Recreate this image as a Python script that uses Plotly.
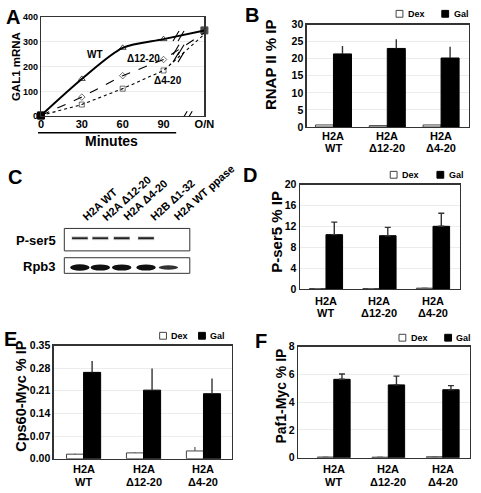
import plotly.graph_objects as go
import numpy as np

W, H = 481, 493
FONT = "Liberation Sans, Arial, Helvetica, sans-serif"

# ---------------- Data ----------------
# Panel A: GAL1 mRNA time course
minutes = [0, 30, 60, 90, 120]
minute_labels = ["0", "30", "60", "90", "O/N"]
gal1_wt = [3, 150, 275, 310, 345]
gal1_d12 = [3, 77, 163, 228, 335]
gal1_d4 = [3, 47, 111, 184, 330]

# Bar panels
strain_line1 = ["H2A", "H2A", "H2A"]
strain_line2 = ["WT", "Δ12-20", "Δ4-20"]

rnap_dex = [0.6, 0.4, 0.6]
rnap_dex_err = [0.0, 0.0, 0.0]
rnap_gal = [21.4, 23.0, 20.2]
rnap_gal_err = [2.3, 2.7, 3.3]

pser5_dex = [0.08, 0.08, 0.15]
pser5_dex_err = [0.0, 0.0, 0.0]
pser5_gal = [10.4, 10.2, 12.0]
pser5_gal_err = [2.4, 1.6, 2.5]

cps60_dex = [0.014, 0.018, 0.024]
cps60_dex_err = [0.002, 0.003, 0.012]
cps60_gal = [0.267, 0.212, 0.201]
cps60_gal_err = [0.035, 0.067, 0.047]

paf1_dex = [0.05, 0.04, 0.07]
paf1_dex_err = [0.0, 0.0, 0.0]
paf1_gal = [5.64, 5.24, 4.89]
paf1_gal_err = [0.38, 0.63, 0.30]

# Panel C: western blot lanes and relative band intensities
lanes = ["H2A WT", "H2A Δ12-20", "H2A Δ4-20", "H2B Δ1-32", "H2A WT ppase"]
pser5_band = [0.9, 0.9, 1.0, 1.0, 0.0]
rpb3_band = [1.0, 0.95, 0.95, 0.95, 0.7]


def px(x):
    return x / W


def py(y):
    return 1 - y / H


fig = go.Figure()

# ---------------- Panel A ----------------
sym_wt = ["square", "triangle-up-open", "triangle-up-open", "triangle-up-open", "square"]
sym_d12 = ["square", "diamond-open", "diamond-open", "diamond-open", "square"]
sym_d4 = ["square", "square-open", "square-open", "square-open", "square"]
fig.add_trace(go.Scatter(x=minutes, y=gal1_wt, mode="lines+markers", xaxis="x", yaxis="y",
                         line=dict(color="black", width=2, shape="spline", smoothing=0.8),
                         marker=dict(symbol=sym_wt, size=[7, 6, 6, 6, 7], color="black",
                                     line=dict(width=1, color="black")),
                         cliponaxis=False, showlegend=False))
fig.add_trace(go.Scatter(x=minutes, y=gal1_d12, mode="lines+markers", xaxis="x", yaxis="y",
                         line=dict(color="black", width=1.1, dash="dash"),
                         marker=dict(symbol=sym_d12, size=[7, 5, 5, 5, 0], color="black",
                                     line=dict(width=0.8, color="black")),
                         cliponaxis=False, showlegend=False))
fig.add_trace(go.Scatter(x=minutes, y=gal1_d4, mode="lines+markers", xaxis="x", yaxis="y",
                         line=dict(color="black", width=1.1, dash="dot"),
                         marker=dict(symbol=sym_d4, size=[7, 5, 5, 5, 0], color="black",
                                     line=dict(width=0.8, color="black")),
                         cliponaxis=False, showlegend=False))

# ---------------- Bar panels ----------------
panels = [
    ("x2", "y2", rnap_dex, rnap_dex_err, rnap_gal, rnap_gal_err, 0.335, 0),
    ("x3", "y3", pser5_dex, pser5_dex_err, pser5_gal, pser5_gal_err, 0.31, 3),
    ("x4", "y4", cps60_dex, cps60_dex_err, cps60_gal, cps60_gal_err, 0.285, 0),
    ("x5", "y5", paf1_dex, paf1_dex_err, paf1_gal, paf1_gal_err, 0.30, 3),
]
xs = [0, 1, 2]
for xa, ya, dex, dexe, gal, gale, w, cap in panels:
    fig.add_trace(go.Bar(x=xs, y=dex, xaxis=xa, yaxis=ya, width=w, offset=-w,
                         marker=dict(color="white", line=dict(color="#444", width=1)),
                         error_y=dict(type="data", symmetric=False, array=dexe,
                                      arrayminus=[0, 0, 0], color="#666", thickness=1.3, width=cap),
                         showlegend=False))
    fig.add_trace(go.Bar(x=xs, y=gal, xaxis=xa, yaxis=ya, width=w, offset=0,
                         marker=dict(color="black", line=dict(color="black", width=1)),
                         error_y=dict(type="data", symmetric=False, array=gale,
                                      arrayminus=[0, 0, 0], color="#333", thickness=1.4, width=cap),
                         showlegend=False))

shapes = []
annotations = []

# ---------------- Axes ----------------
tickfont = dict(family=FONT, size=10.5, color="black", weight="bold")
catfont = dict(family=FONT, size=11, color="black", weight="bold")


def frame_axis(**kw):
    d = dict(showline=True, mirror=True, linecolor="#333", linewidth=1.2, ticks="",
             zeroline=False, fixedrange=True)
    d.update(kw)
    return d


layout_axes = {}
layout_axes["xaxis"] = frame_axis(domain=[px(39), px(207)], range=[0, 120], anchor="y",
                                  tickvals=minutes, ticktext=minute_labels, showgrid=False,
                                  ticklabelstandoff=-3,
                                  tickfont=dict(family=FONT, size=11, color="black", weight="bold"))
layout_axes["yaxis"] = frame_axis(domain=[py(113), py(11)], range=[0, 400], anchor="x",
                                  dtick=100, showgrid=True, gridcolor="#ececec",
                                  tickfont=dict(family=FONT, size=9, color="black", weight="bold"))

# name, x px-domain, y px-domain (bottom, top), x range, y range, dtick, format, label rows y (px)
specs = [
    ("2", [312, 479], [124, 19], [-0.5, 2.52], [0, 30], 5, None, (133, 146)),
    ("3", [305, 470], [290, 183], [-0.49, 2.51], [0, 20], 4, None, (302, 315)),
    ("4", [52, 235], [464, 348], [-0.5, 2.47], [0, 0.35], 0.07, ".2f", (475, 488)),
    ("5", [303, 480], [463, 349], [-0.66, 2.5], [0, 8], 2, None, (475, 488)),
]
for n, xd, yd, xr, yr, dt, fmt, rows in specs:
    layout_axes["xaxis" + n] = frame_axis(domain=[px(xd[0]), px(xd[1])], range=xr, anchor="y" + n,
                                          tickvals=xs, showticklabels=False, showgrid=False)
    ya = frame_axis(domain=[py(yd[0]), py(yd[1])], range=yr, anchor="x" + n, dtick=dt, tick0=0,
                    showgrid=True, gridcolor="#ececec", tickfont=tickfont)
    if fmt:
        ya["tickformat"] = fmt
    layout_axes["yaxis" + n] = ya
    for xi, l1, l2 in zip(xs, strain_line1, strain_line2):
        annotations.append(dict(x=xi, y=py(rows[0]), xref="x" + n, yref="paper", text=l1, showarrow=False,
                                xanchor="center", yanchor="middle", font=catfont))
        annotations.append(dict(x=xi, y=py(rows[1]), xref="x" + n, yref="paper", text=l2, showarrow=False,
                                xanchor="center", yanchor="middle", font=catfont))

# ---------------- Panel A decorations ----------------
# break marks on the lines between 90 min and O/N
brk_x = 101
for series in (gal1_wt, gal1_d12, gal1_d4):
    yb = float(np.interp(brk_x, minutes, series))
    for dx in (-2.5, 2.5):
        shapes.append(dict(type="line", xref="x", yref="y", xsizemode="pixel", ysizemode="pixel",
                           xanchor=brk_x, yanchor=yb, x0=dx - 3, x1=dx + 3, y0=-5, y1=5,
                           line=dict(color="black", width=1.1)))
# break on the time axis
for dx in (-2.5, 2.5):
    shapes.append(dict(type="line", xref="x", yref="y", xsizemode="pixel", ysizemode="pixel",
                       xanchor=107, yanchor=0, x0=dx - 3, x1=dx + 3, y0=-5, y1=5,
                       line=dict(color="black", width=1.1)))
# Minutes underline
shapes.append(dict(type="line", xref="paper", yref="paper", x0=px(36), x1=px(178), y0=py(130), y1=py(130),
                   line=dict(color="black", width=1.5)))
annotations.append(dict(x=px(112), y=py(138), xref="paper", yref="paper", text="Minutes", showarrow=False,
                        xanchor="center", yanchor="middle",
                        font=dict(family=FONT, size=14, color="black", weight="bold")))
series_lab = dict(family=FONT, size=10, color="black", weight="bold")
for text, xv, yv in [("WT", 40, 248), ("Δ12-20", 75, 233), ("Δ4-20", 93, 144)]:
    annotations.append(dict(x=xv, y=yv, xref="x", yref="y", text=text, showarrow=False,
                            xanchor="center", yanchor="middle", font=series_lab))

# ---------------- Axis titles ----------------
for text, x, y, fs in [("GAL1 mRNA", 14, 62, 11.5), ("RNAP II % IP", 275, 60, 15),
                       ("P-ser5 % IP", 281, 231, 15), ("Cps60-Myc % IP", 19, 399, 14.5),
                       ("Paf1-Myc % IP", 286, 400, 14)]:
    annotations.append(dict(x=px(x), y=py(y), xref="paper", yref="paper", text=text, textangle=-90,
                            showarrow=False, xanchor="center", yanchor="middle",
                            font=dict(family=FONT, size=fs, color="black", weight="bold")))

# ---------------- Panel letters ----------------
letter_font = dict(family=FONT, size=20, color="black", weight="bold")
for text, x, y in [("A", 1, 11), ("B", 247, 9), ("C", 3, 175), ("D", 245, 173), ("E", -1, 341), ("F", 257, 343)]:
    annotations.append(dict(x=px(x), y=py(y), xref="paper", yref="paper", text=text, showarrow=False,
                            xanchor="left", yanchor="middle", font=letter_font))

# ---------------- Legends (Dex / Gal) ----------------
leg_font = dict(family=FONT, size=9, color="black", weight="bold")
for dx_, gx_, ly in [(404, 451, 8), (398, 446, 173), (161, 201, 338), (407, 454, 340)]:
    shapes.append(dict(type="rect", xref="paper", yref="paper", x0=px(dx_), x1=px(dx_ + 7),
                       y0=py(ly + 3.5), y1=py(ly - 3.5), fillcolor="white", line=dict(color="#444", width=1)))
    shapes.append(dict(type="rect", xref="paper", yref="paper", x0=px(gx_), x1=px(gx_ + 7),
                       y0=py(ly + 3.5), y1=py(ly - 3.5), fillcolor="black", line=dict(color="black", width=1)))
    annotations.append(dict(x=px(dx_ + 10), y=py(ly), xref="paper", yref="paper", text="Dex", showarrow=False,
                            xanchor="left", yanchor="middle", font=leg_font))
    annotations.append(dict(x=px(gx_ + 10), y=py(ly), xref="paper", yref="paper", text="Gal", showarrow=False,
                            xanchor="left", yanchor="middle", font=leg_font))

# ---------------- Panel C: western blot ----------------
lane_x = [79, 100, 122, 147, 170]
label_x = [77, 97, 118, 146, 171]
for y0, y1 in [(228, 251), (258, 274)]:
    shapes.append(dict(type="rect", xref="paper", yref="paper", x0=px(63), x1=px(192), y0=py(y1), y1=py(y0),
                       fillcolor="white", line=dict(color="#333", width=1)))
for lx, inten in zip(lane_x, pser5_band):
    if inten <= 0:
        continue
    hw = 8.5
    shapes.append(dict(type="rect", xref="paper", yref="paper", x0=px(lx - hw), x1=px(lx + hw),
                       y0=py(240.0), y1=py(236.0), fillcolor="#c8c8c8", line=dict(width=0)))
    shapes.append(dict(type="rect", xref="paper", yref="paper", x0=px(lx - hw + 0.5), x1=px(lx + hw - 0.5),
                       y0=py(238.0 + 1.0 * inten), y1=py(238.0 - 1.0 * inten), fillcolor="#222",
                       line=dict(width=0)))
for i, (lx, inten) in enumerate(zip(lane_x, rpb3_band)):
    hw = 10
    hh = 3.3 * inten
    shapes.append(dict(type="circle", xref="paper", yref="paper", x0=px(lx - hw), x1=px(lx + hw),
                       y0=py(268 + hh), y1=py(268 - hh), fillcolor="#111" if i < 4 else "#333",
                       line=dict(width=0)))
lane_font = dict(family=FONT, size=11, color="black", weight="bold")
for lx, name in zip(label_x, lanes):
    annotations.append(dict(x=px(lx), y=py(225), xref="paper", yref="paper", text=name, textangle=-42,
                            showarrow=False, xanchor="left", yanchor="bottom", font=lane_font))
row_font = dict(family=FONT, size=13, color="black", weight="bold")
annotations.append(dict(x=px(57), y=py(240), xref="paper", yref="paper", text="P-ser5", showarrow=False,
                        xanchor="right", yanchor="middle", font=row_font))
annotations.append(dict(x=px(57), y=py(267), xref="paper", yref="paper", text="Rpb3", showarrow=False,
                        xanchor="right", yanchor="middle", font=row_font))

fig.update_layout(width=W, height=H, margin=dict(l=0, r=0, t=0, b=0), paper_bgcolor="white",
                  plot_bgcolor="white", barmode="overlay", showlegend=False,
                  font=dict(family=FONT, color="black"), shapes=shapes, annotations=annotations,
                  **layout_axes)

fig.write_html("out.html", config={"displayModeBar": False, "staticPlot": True},
               post_script="document.body.style.margin='0';document.body.style.overflow='hidden';")
